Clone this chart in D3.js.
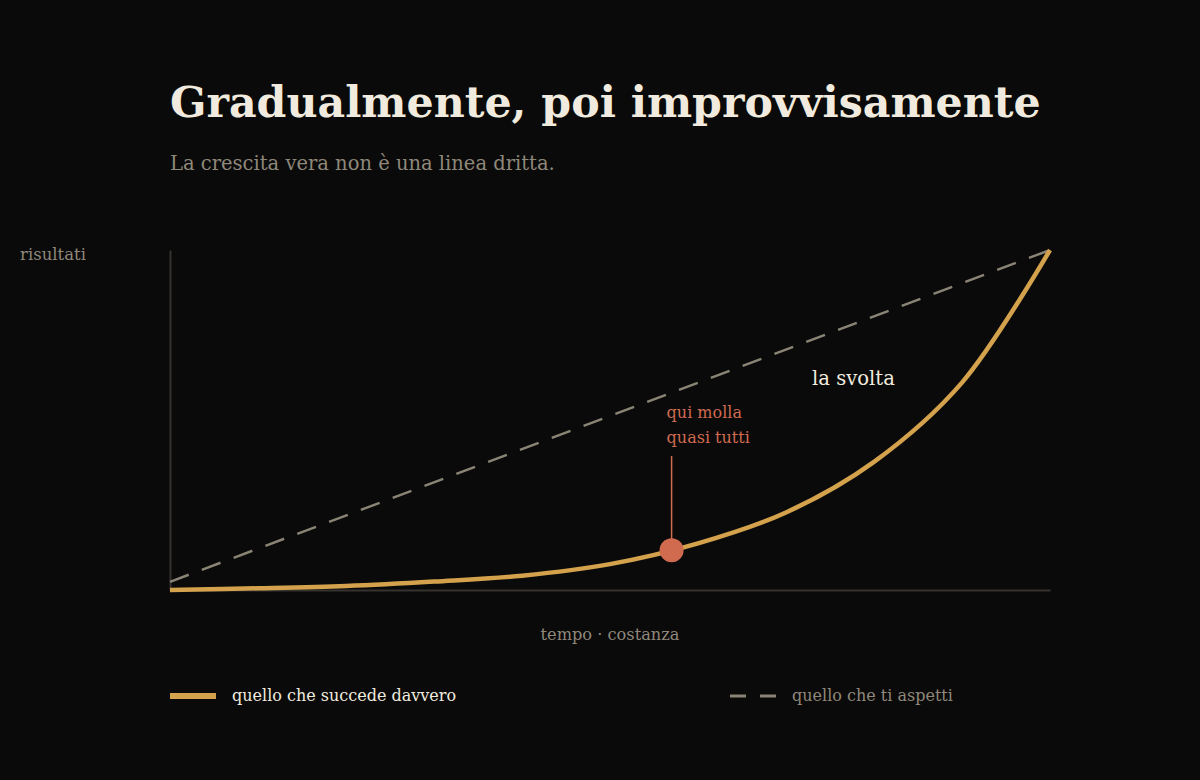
<!DOCTYPE html>
<html>
<head>
<meta charset="utf-8">
<script src="https://cdn.jsdelivr.net/npm/d3@7"></script>
<style>
  html, body { margin: 0; padding: 0; background: #0a0a0a; }
  svg { display: block; }
</style>
</head>
<body>
<svg id="chart"></svg>
<script>
(function () {

  var width = 1200, height = 780;

  // data: time (0..10) vs results (0..100)
  var timeSteps   = [0, 1, 2, 3, 4, 5, 6, 7, 8, 9, 10];
  var actual      = [0, 0.5, 1.2, 2.5, 4.2, 7.6, 13.7, 22.8, 37.7, 61, 100];
  var expectedX   = [0, 10];
  var expected    = [2.4, 100];
  var quitPoint   = { t: 5.7, v: 11.7 };

  var titleText    = 'Gradualmente, poi improvvisamente';
  var subtitleText = 'La crescita vera non è una linea dritta.';
  var yLabel       = 'risultati';
  var xLabel       = 'tempo · costanza';
  var quitLabel    = ['qui molla', 'quasi tutti'];
  var turnLabel    = 'la svolta';
  var legendLabels = ['quello che succede davvero', 'quello che ti aspetti'];

  var serif = "Georgia, 'DejaVu Serif', serif";
  var gold = '#d4a24c', grey = '#8a8475', coral = '#d06b50',
      cream = '#f1ebdf', muted = '#8f887a', axisCol = '#36332f';

  var svg = d3.select('#chart')
    .attr('width', width)
    .attr('height', height)
    .style('font-family', serif);

  svg.append('rect').attr('width', width).attr('height', height).attr('fill', '#0a0a0a');

  var x = d3.scaleLinear().domain([0, 10]).range([170, 1050]);
  var y = d3.scaleLinear().domain([0, 100]).range([590, 250]);

  // titles
  svg.append('text')
    .attr('x', 170).attr('y', 117)
    .attr('fill', cream)
    .attr('font-size', 42.7)
    .attr('font-weight', 'bold')
    .text(titleText);

  svg.append('text')
    .attr('x', 170).attr('y', 170)
    .attr('fill', muted)
    .attr('font-size', 19.5)
    .text(subtitleText);

  // axes (no ticks)
  var xAxis = d3.axisBottom(x).ticks(0).tickSize(0).tickSizeOuter(0);
  var yAxis = d3.axisLeft(y).ticks(0).tickSize(0).tickSizeOuter(0);

  svg.append('g')
    .attr('transform', 'translate(0,' + y(0) + ')')
    .call(xAxis)
    .call(function (g) { g.select('.domain').attr('stroke', axisCol).attr('stroke-width', 2); });

  svg.append('g')
    .attr('transform', 'translate(' + x(0) + ',0)')
    .call(yAxis)
    .call(function (g) { g.select('.domain').attr('stroke', axisCol).attr('stroke-width', 2); });

  svg.append('text')
    .attr('x', 20).attr('y', 260)
    .attr('fill', muted)
    .attr('font-size', 16.5)
    .text(yLabel);

  svg.append('text')
    .attr('x', (x(0) + x(10)) / 2 + 0).attr('y', 640)
    .attr('text-anchor', 'middle')
    .attr('fill', muted)
    .attr('font-size', 16.2)
    .text(xLabel);

  // expected (dashed) line
  var lineExp = d3.line()
    .x(function (d, i) { return x(expectedX[i]); })
    .y(function (d) { return y(d); });

  svg.append('path')
    .datum(expected)
    .attr('d', lineExp)
    .attr('fill', 'none')
    .attr('stroke', grey)
    .attr('stroke-width', 2.5)
    .attr('stroke-dasharray', '20,14');

  // actual curve
  var lineAct = d3.line()
    .x(function (d, i) { return x(timeSteps[i]); })
    .y(function (d) { return y(d); })
    .curve(d3.curveCatmullRom.alpha(0.5));

  svg.append('path')
    .datum(actual)
    .attr('d', lineAct)
    .attr('fill', 'none')
    .attr('stroke', gold)
    .attr('stroke-width', 4.5)
    .attr('stroke-linecap', 'butt');

  // quit annotation
  svg.append('line')
    .attr('x1', x(quitPoint.t)).attr('x2', x(quitPoint.t))
    .attr('y1', 456).attr('y2', y(quitPoint.v))
    .attr('stroke', coral)
    .attr('stroke-width', 1.5);

  svg.append('circle')
    .attr('cx', x(quitPoint.t))
    .attr('cy', y(quitPoint.v))
    .attr('r', 12)
    .attr('fill', coral);

  svg.append('text')
    .attr('x', x(quitPoint.t) - 5).attr('y', 418)
    .attr('fill', coral)
    .attr('font-size', 16)
    .selectAll('tspan')
    .data(quitLabel)
    .join('tspan')
    .attr('x', x(quitPoint.t) - 5)
    .attr('dy', function (d, i) { return i === 0 ? 0 : 25; })
    .text(function (d) { return d; });

  svg.append('text')
    .attr('x', 812).attr('y', 385)
    .attr('fill', cream)
    .attr('font-size', 19.6)
    .text(turnLabel);

  // legend
  svg.append('line')
    .attr('x1', 170).attr('x2', 216)
    .attr('y1', 696).attr('y2', 696)
    .attr('stroke', gold).attr('stroke-width', 6);

  svg.append('text')
    .attr('x', 232).attr('y', 701)
    .attr('fill', cream)
    .attr('font-size', 16)
    .text(legendLabels[0]);

  svg.append('line')
    .attr('x1', 730).attr('x2', 776)
    .attr('y1', 696).attr('y2', 696)
    .attr('stroke', grey).attr('stroke-width', 3)
    .attr('stroke-dasharray', '16,14');

  svg.append('text')
    .attr('x', 792).attr('y', 701)
    .attr('fill', muted)
    .attr('font-size', 16)
    .text(legendLabels[1]);

})();
</script>
</body>
</html>
